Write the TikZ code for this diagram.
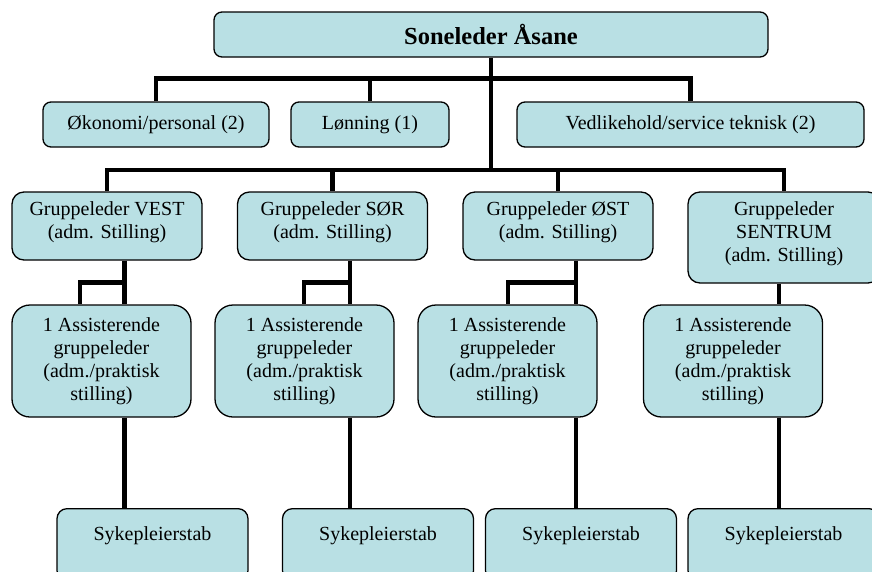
\documentclass[tikz,border=0pt]{standalone}
\usepackage{fontspec}
\setmainfont{Liberation Serif}
\usepackage{xcolor}
\definecolor{boxfill}{RGB}{185,224,228}

\begin{document}
\begin{tikzpicture}[
x=1pt, y=-1pt,
orgnode/.style={draw, fill=boxfill, line width=1.3pt, rounded corners=8pt, align=center, inner sep=0pt, font=\fontsize{20}{23}\selectfont},
topnode/.style={orgnode, font=\fontsize{24.5}{28}\selectfont\bfseries},
groupnode/.style={orgnode, rounded corners=12pt, minimum width=190pt, minimum height=68pt, text depth=12pt},
assnode/.style={orgnode, rounded corners=18pt, minimum width=179pt, minimum height=112pt},
staffnode/.style={orgnode, rounded corners=10pt, anchor=north, minimum width=191pt, text height=32pt, text depth=40pt},
conn/.style={line width=4.5pt},
]
\clip (0,0) rectangle (872,571);

%Nodes
\node[topnode, minimum width=554pt, minimum height=45pt] (top) at (491,34.5) {Soneleder Åsane};

\node[orgnode, minimum width=226pt, minimum height=45pt] (oek)  at (156,124.5)   {Økonomi/personal (2)};
\node[orgnode, minimum width=158pt, minimum height=45pt] (lonn) at (370,124.5)   {Lønning (1)};
\node[orgnode, minimum width=347pt, minimum height=45pt] (vedl) at (690.5,124.5) {Vedlikehold/service teknisk (2)};

\node[groupnode] (vest) at (107,226)   {Gruppeleder VEST\\(adm. Stilling)};
\node[groupnode] (sor)  at (332.5,226) {Gruppeleder SØR\\(adm. Stilling)};
\node[groupnode] (ost)  at (558,226)   {Gruppeleder ØST\\(adm. Stilling)};
\node[groupnode, minimum width=192pt, minimum height=91pt] (sentrum) at (784,237.5) {Gruppeleder\\SENTRUM\\(adm. Stilling)};

\node[assnode] (ass1) at (101.5,361) {1 Assisterende\\gruppeleder\\(adm./praktisk\\stilling)};
\node[assnode] (ass2) at (304.5,361) {1 Assisterende\\gruppeleder\\(adm./praktisk\\stilling)};
\node[assnode] (ass3) at (507.5,361) {1 Assisterende\\gruppeleder\\(adm./praktisk\\stilling)};
\node[assnode] (ass4) at (733,361)   {1 Assisterende\\gruppeleder\\(adm./praktisk\\stilling)};

\node[staffnode] (syk1) at (152.5,508) {Sykepleierstab};
\node[staffnode] (syk2) at (378,508)   {Sykepleierstab};
\node[staffnode] (syk3) at (581,508)   {Sykepleierstab};
\node[staffnode] (syk4) at (783.5,508) {Sykepleierstab};

%Bus lines and columns
\coordinate (bus1) at (0,78.5);
\coordinate (bus2) at (0,170);
\coordinate (bus3) at (0,282.5);
\coordinate (c1) at (124.5,0);
\coordinate (c2) at (350,0);
\coordinate (c3) at (576,0);
\coordinate (c4) at (779,0);
\coordinate (b1) at (80,0);
\coordinate (b2) at (304,0);
\coordinate (b3) at (508,0);

%Lines
\draw[conn] (top.south) -- (top.south |- bus2);
\draw[conn] (oek.north) |- (vedl.north |- bus1) -- (vedl.north);
\draw[conn] (lonn.north) -- (lonn.north |- bus1);
\draw[conn] (vest.north) |- (sentrum.north |- bus2) -- (sentrum.north);
\draw[conn] (sor.north) -- (sor.north |- bus2);
\draw[conn] (ost.north) -- (ost.north |- bus2);

\draw[conn] (c1 |- vest.south) -- (c1 |- ass1.north);
\draw[conn] (c1 |- bus3) -| (b1 |- ass1.north);
\draw[conn] (c2 |- sor.south) -- (c2 |- ass2.north);
\draw[conn] (c2 |- bus3) -| (b2 |- ass2.north);
\draw[conn] (c3 |- ost.south) -- (c3 |- ass3.north);
\draw[conn] (c3 |- bus3) -| (b3 |- ass3.north);
\draw[conn] (c4 |- sentrum.south) -- (c4 |- ass4.north);

\draw[conn] (c1 |- ass1.south) -- (c1 |- syk1.north);
\draw[conn] (c2 |- ass2.south) -- (c2 |- syk2.north);
\draw[conn] (c3 |- ass3.south) -- (c3 |- syk3.north);
\draw[conn] (c4 |- ass4.south) -- (c4 |- syk4.north);
\end{tikzpicture}
\end{document}
